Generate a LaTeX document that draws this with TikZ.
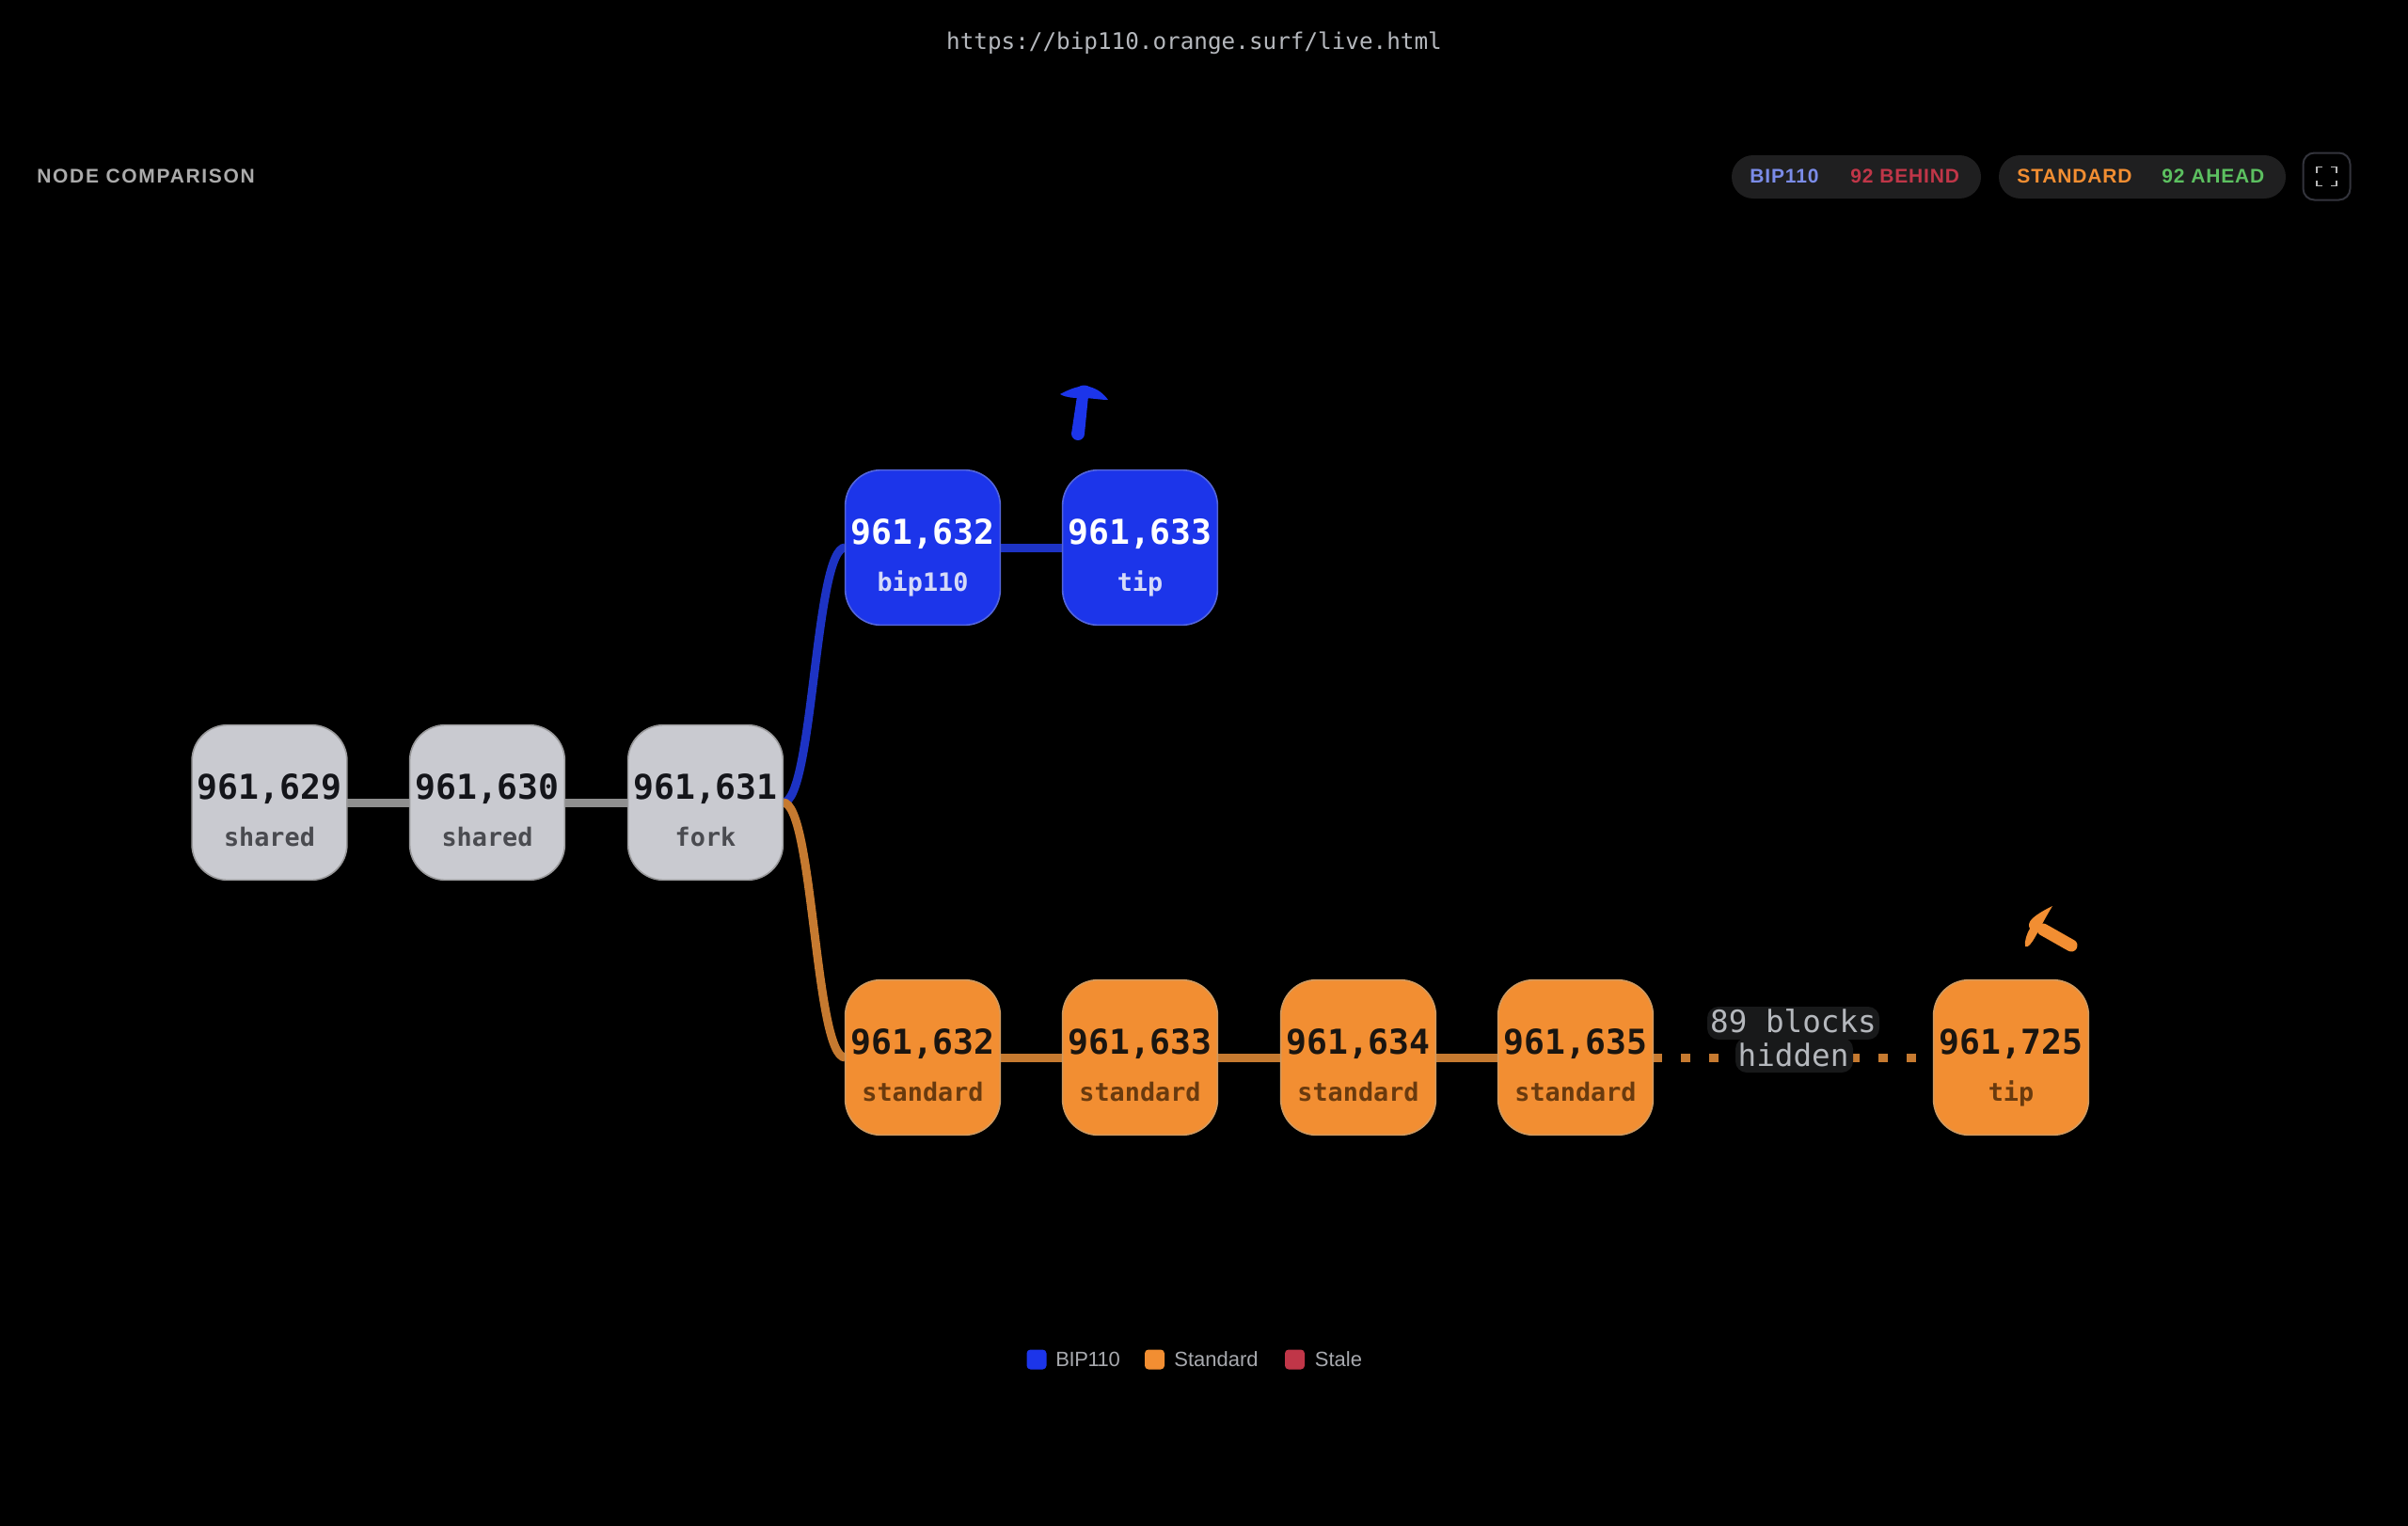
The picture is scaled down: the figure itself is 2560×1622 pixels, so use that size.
\documentclass[tikz,border=0pt]{standalone}
\usepackage{fontspec}
\setmainfont{Liberation Sans}
\newfontfamily\monof{DejaVu Sans Mono}
\newfontfamily\spacedf[LetterSpace=4]{Liberation Sans}
\newfontfamily\widef[LetterSpace=8]{Liberation Sans}
\newfontfamily\tightf[LetterSpace=-2]{Liberation Sans}
\usetikzlibrary{calc,backgrounds}
\definecolor{gfill}{HTML}{C9CAD0}\definecolor{gline}{HTML}{9A9A9C}\definecolor{gnum}{HTML}{14151A}\definecolor{glab}{HTML}{4A4B50}\definecolor{gedge}{HTML}{8F8F8F}
\definecolor{bfill}{HTML}{1C35EA}\definecolor{bline}{HTML}{5365DA}\definecolor{bnum}{HTML}{FFFFFF}\definecolor{blab}{HTML}{D5DAF8}\definecolor{bedge}{HTML}{1D33C4}
\definecolor{ofill}{HTML}{F28E32}\definecolor{oline}{HTML}{D09A60}\definecolor{onum}{HTML}{1A1510}\definecolor{olab}{HTML}{693A0E}\definecolor{oedge}{HTML}{C67A30}
\definecolor{pill}{HTML}{1F1F20}\definecolor{halo}{HTML}{18191A}\definecolor{muted}{HTML}{B5B8BD}
\definecolor{tbip}{HTML}{7B8CE8}\definecolor{tred}{HTML}{C03648}\definecolor{tgreen}{HTML}{5CC060}\definecolor{btnline}{HTML}{33343C}
\tikzset{
 blk/.style={rectangle,rounded corners=19pt,minimum width=82.4pt,minimum height=82.4pt,inner sep=0pt,outer sep=0pt,line width=0.8pt},
 gblk/.style={blk,fill=gfill,draw=gline},
 bblk/.style={blk,fill=bfill,draw=bline},
 oblk/.style={blk,fill=ofill,draw=oline},
 numt/.style={anchor=base,inner sep=0pt,font=\monof\bfseries\fontsize{18.2}{20}\selectfont},
 labt/.style={anchor=base,inner sep=0pt,font=\monof\bfseries\fontsize{13.4}{15}\selectfont},
 edge/.style={line width=4.5pt},
 pillbox/.style={rectangle,rounded corners=11.4pt,minimum height=23pt,inner sep=0pt,outer sep=0pt,fill=pill},
 pilltext/.style={anchor=west,inner sep=0pt,font=\spacedf\bfseries\fontsize{10.5}{12}\selectfont},
 legsq/.style={rectangle,rounded corners=2pt,minimum width=10.5pt,minimum height=10.5pt,inner sep=0pt},
 legtext/.style={anchor=base west,inner sep=0pt,text=muted!92!black,font=\fontsize{11}{13}\selectfont},
 hidetext/.style={anchor=base,inner sep=0pt,text=muted,font=\monof\fontsize{16.3}{18}\selectfont},
}
% name, x, y, colour key, number, label
\newcommand{\blockat}[6]{%
 \node[#4blk] (#1) at (#2,#3) {};
 \node[numt,text=#4num] (#1n) at ($(#1.center)+(0,-3.5)$) {#5};
 \node[labt,text=#4lab] (#1l) at ($(#1.center)+(0,46)$) {#6};
}
\begin{document}
\begin{tikzpicture}[x=0.5pt,y=-0.5pt]
\useasboundingbox (0,0) rectangle (2560,1622);
\begin{scope}[on background layer]
 \fill[black] (0,0) rectangle (2560,1622);
\end{scope}
% header
\node[inner sep=0pt,text=muted,font=\monof\fontsize{12.15}{14}\selectfont] (url) at (1269.5,45.5) {https://bip110.orange.surf/live.html};
\node[anchor=west,inner sep=0pt,text=black!33!white,font=\widef\bfseries\fontsize{10.5}{12}\selectfont] (title) at (39,187.5) {NODE COMPARISON};
\node[pillbox,minimum width=132.5pt] (p1) at (1973.5,188) {};
\node[pillbox,minimum width=152.5pt] (p2) at (2277.5,188) {};
\node[pilltext,text=tbip] (p1a) at (1860,187.5) {BIP110};
\node[pilltext,text=tred] (p1b) at (1967,187.5) {92 BEHIND};
\node[pilltext,text=ofill] (p2a) at (2144,187.5) {STANDARD};
\node[pilltext,text=tgreen] (p2b) at (2298,187.5) {92 AHEAD};
\node[rectangle,rounded corners=6pt,minimum width=25pt,minimum height=25pt,inner sep=0pt,draw=btnline,line width=1pt] (btn) at (2473.5,187.5) {};
\draw[black!28!white,line width=0.9pt]
 ($(btn.center)+(-10.5,-4)$) -- ++(0,-6) -- ++(6,0)
 ($(btn.center)+(4.5,-10)$) -- ++(6,0) -- ++(0,6)
 ($(btn.center)+(10.5,4)$) -- ++(0,6) -- ++(-6,0)
 ($(btn.center)+(-4.5,10)$) -- ++(-6,0) -- ++(0,-6);
% blocks
\blockat{a}{286.5}{853}{g}{961,629}{shared}
\blockat{b}{518}{853}{g}{961,630}{shared}
\blockat{c}{750}{853}{g}{961,631}{fork}
\blockat{u}{981}{582}{b}{961,632}{bip110}
\blockat{v}{1212}{582}{b}{961,633}{tip}
\blockat{s}{981}{1124}{o}{961,632}{standard}
\blockat{t}{1212}{1124}{o}{961,633}{standard}
\blockat{w}{1444}{1124}{o}{961,634}{standard}
\blockat{x}{1675}{1124}{o}{961,635}{standard}
\blockat{z}{2138}{1124}{o}{961,725}{tip}
% connectors
\begin{scope}[on background layer]
 \draw[edge,gedge] (a) -- (b);
 \draw[edge,gedge] (b) -- (c);
 \draw[edge,bedge] (c.east) .. controls +(32.5,0) and +(-32.5,0) .. (u.west);
 \draw[edge,bedge] (u) -- (v);
 \draw[edge,oedge] (c.east) .. controls +(32.5,0) and +(-32.5,0) .. (s.west);
 \draw[edge,oedge] (s) -- (t);
 \draw[edge,oedge] (t) -- (w);
 \draw[edge,oedge] (w) -- (x);
 \draw[edge,oedge,dash pattern=on 5pt off 10pt] (x.east) -- (z.west);
\end{scope}
% hidden-blocks label
\fill[halo,rounded corners=6pt] (1815,1070) rectangle (1998,1105);
\fill[halo,rounded corners=6pt] (1845,1103) rectangle (1970,1140);
\node[hidetext] (h1) at (1906.5,1097) {89 blocks};
\node[hidetext] (h2) at (1906.5,1133) {hidden};
% pickaxes
\fill[bfill] (1127,419) .. controls (1134,415) and (1142,412) .. (1147,411) .. controls (1150,409) and (1155,409) .. (1158,411) .. controls (1166,413) and (1173,418) .. (1178,425) .. controls (1170,425) and (1160,423) .. (1150,423) .. controls (1142,423) and (1134,423) .. (1127,419) -- cycle;
\fill[bfill] (1145,421) -- (1157,421) -- (1153,461) arc[start angle=0,end angle=180,radius=7] -- cycle;
\fill[ofill] (2182,963) .. controls (2176,966) and (2166,971) .. (2160,977) .. controls (2157,980) and (2156,984) .. (2158,987) .. controls (2155,992) and (2152,1000) .. (2153,1006) .. controls (2156,1008) and (2160,1002) .. (2163,997) .. controls (2167,990) and (2174,976) .. (2182,963) -- cycle;
\draw[ofill,line width=6.5pt,line cap=round] (2172,988) -- (2202,1005);
% legend
\node[legsq,fill=bfill] (l1) at (1102,1445) {};
\node[legsq,fill=ofill] (l2) at (1227.5,1445) {};
\node[legsq,fill=tred] (l3) at (1376.5,1445) {};
\node[legtext,font=\tightf\fontsize{11}{13}\selectfont] (l1t) at (1122,1452) {BIP110};
\node[legtext] (l2t) at (1248,1452) {Standard};
\node[legtext] (l3t) at (1397.5,1452) {Stale};
\end{tikzpicture}
\end{document}
